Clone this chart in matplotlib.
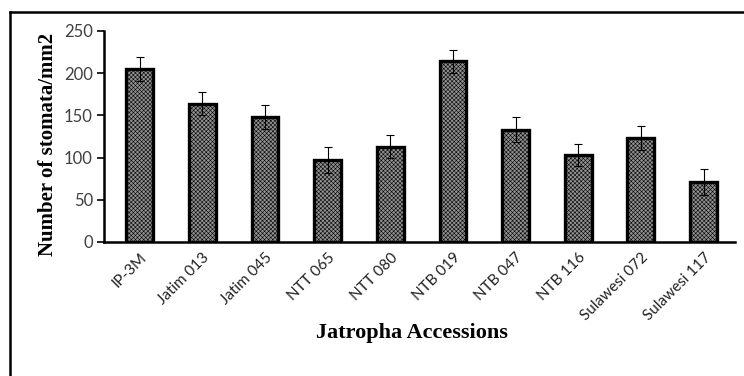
import matplotlib.pyplot as plt
import matplotlib.lines as mlines
import numpy as np

accessions = ['IP-3M', 'Jatim 013', 'Jatim 045', 'NTT 065', 'NTT 080',
              'NTB 019', 'NTB 047', 'NTB 116', 'Sulawesi 072', 'Sulawesi 117']
stomata = [205, 164, 148, 97, 113, 214, 133, 103, 123, 71]
errors = [14, 14, 14, 15, 14, 14, 15, 13, 14, 15]

plt.rcParams['hatch.linewidth'] = 0.4
plt.rcParams['hatch.color'] = '#d0d0d0'

fig = plt.figure(figsize=(7.44, 3.76), dpi=100)
ax = fig.add_axes([0.1398, 0.3564, 0.848, 0.5612])

x = np.arange(len(accessions))
ax.bar(x, stomata, width=0.43, color='#929292', edgecolor='black',
       linewidth=2.4, hatch='xxxxxxxx', zorder=2)
ax.errorbar(x, stomata, yerr=errors, fmt='none', ecolor='black',
            elinewidth=0.8, capsize=3, capthick=0.8, zorder=3)

ax.set_xlim(-0.57, 9.5)
ax.set_ylim(0, 250)
ax.set_yticks([0, 50, 100, 150, 200, 250])
ax.set_xticks(x)
ax.set_xticklabels(accessions, rotation=45, ha='right', rotation_mode='anchor',
                   fontsize=11, family='Lato', color='#222222')
for lab in ax.get_yticklabels():
    lab.set_family('Lato')
ax.tick_params(axis='y', direction='out', length=5, width=1.2,
               labelsize=12, labelcolor='#404040', pad=3)
ax.tick_params(axis='x', length=0, pad=6)

ax.spines['top'].set_visible(False)
ax.spines['right'].set_visible(False)
ax.spines['left'].set_linewidth(1.8)
ax.spines['bottom'].set_linewidth(1.8)

fig.text(0.065, 0.615, 'Number of stomata/mm2', rotation=90, ha='center',
         va='center', family='Liberation Serif', fontweight='bold', fontsize=15)
fig.text(0.554, 0.114, 'Jatropha Accessions', ha='center', va='center',
         family='Liberation Serif', fontweight='bold', fontsize=16)

# outer frame (only left and top edges visible in the crop)
fig.add_artist(mlines.Line2D([0.0141, 0.0141], [0, 0.968], color='black',
                             linewidth=1.8, transform=fig.transFigure))
fig.add_artist(mlines.Line2D([0.0135, 1.0], [0.968, 0.968], color='black',
                             linewidth=1.8, transform=fig.transFigure))

fig.savefig('out.png', dpi=100)
